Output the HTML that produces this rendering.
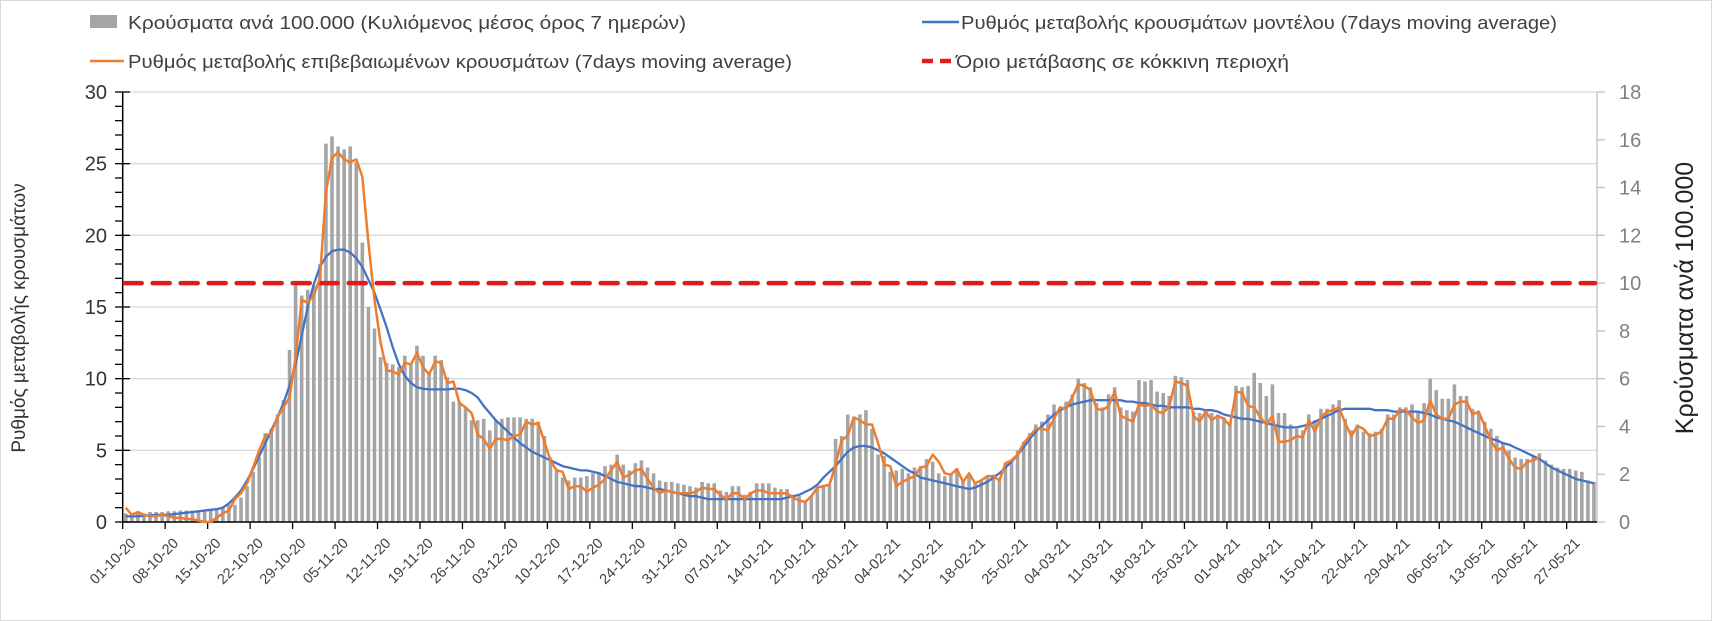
<!DOCTYPE html>
<html><head><meta charset="utf-8"><style>
html,body{margin:0;padding:0;background:#fff;}
svg{display:block;font-family:"Liberation Sans",sans-serif;}
</style></head><body>
<svg id="chart" width="1712" height="621" viewBox="0 0 1712 621" xmlns="http://www.w3.org/2000/svg">
<rect x="0.5" y="0.5" width="1711" height="620" fill="#fff" stroke="#d9d9d9"/>
<g id="grid"></g>
<g id="bars"></g>
<g id="axes"></g>
<g id="lines"></g>
<g>
  <rect x="90" y="15" width="27" height="13" fill="#a5a5a5"/>
  <text x="128" y="29" font-size="18" fill="#404040" textLength="558" lengthAdjust="spacingAndGlyphs">Κρούσματα ανά 100.000 (Κυλιόμενος μέσος όρος 7 ημερών)</text>
  <line x1="90" y1="61" x2="124" y2="61" stroke="#ed7d31" stroke-width="2.5"/>
  <text x="128" y="68" font-size="18" fill="#404040" textLength="664" lengthAdjust="spacingAndGlyphs">Ρυθμός μεταβολής επιβεβαιωμένων κρουσμάτων (7days moving average)</text>
  <line x1="922" y1="22" x2="959" y2="22" stroke="#4472c4" stroke-width="2.5"/>
  <text x="961" y="29" font-size="18" fill="#404040" textLength="596" lengthAdjust="spacingAndGlyphs">Ρυθμός μεταβολής κρουσμάτων μοντέλου (7days moving average)</text>
  <line x1="922" y1="61" x2="954" y2="61" stroke="#e01b1b" stroke-width="4.5" stroke-dasharray="11,7"/>
  <text x="956" y="68" font-size="18" fill="#404040" textLength="333" lengthAdjust="spacingAndGlyphs">Όριο μετάβασης σε κόκκινη περιοχή</text>
</g>
<text transform="translate(25,318) rotate(-90)" text-anchor="middle" font-size="19" fill="#333">Ρυθμός μεταβολής κρουσμάτων</text>
<text transform="translate(1693,298) rotate(-90)" text-anchor="middle" font-size="25" fill="#222">Κρούσματα ανά 100.000</text>
</svg>
<script>
const leftTicks = [0,5,10,15,20,25,30];
const rightTicks = [0,2,4,6,8,10,12,14,16,18];
const redLimit = 10;
const dateLabels = ["01-10-20","08-10-20","15-10-20","22-10-20","29-10-20","05-11-20","12-11-20","19-11-20","26-11-20","03-12-20","10-12-20","17-12-20","24-12-20","31-12-20","07-01-21","14-01-21","21-01-21","28-01-21","04-02-21","11-02-21","18-02-21","25-02-21","04-03-21","11-03-21","18-03-21","25-03-21","01-04-21","08-04-21","15-04-21","22-04-21","29-04-21","06-05-21","13-05-21","20-05-21","27-05-21"];
const casesPer100k = [.36,.36,.39,.36,.42,.42,.42,.45,.45,.48,
.48,.48,.48,.48,.48,.54,.6,.72,.72,1.02,
1.5,2.1,2.7,3.72,3.9,4.5,5.1,7.2,9.9,9.48,
9.72,9.9,10.8,15.84,16.14,15.72,15.6,15.72,15.06,11.7,
9.0,8.1,6.9,6.66,6.6,6.48,6.96,6.6,7.38,6.96,
6.3,6.96,6.78,6.06,5.04,5.04,4.8,4.26,4.26,4.32,
3.84,4.26,4.32,4.38,4.38,4.38,4.32,4.32,4.2,3.6,
2.7,2.22,1.86,1.74,1.86,1.86,1.92,2.04,2.1,2.34,
2.4,2.82,2.4,2.16,2.46,2.58,2.28,2.04,1.74,1.68,
1.68,1.62,1.56,1.5,1.44,1.68,1.62,1.62,1.32,1.26,
1.5,1.5,1.14,1.26,1.62,1.62,1.62,1.44,1.38,1.38,
1.14,1.08,.9,1.08,1.38,1.56,1.56,3.48,3.6,4.5,
4.38,4.5,4.68,3.9,2.82,2.76,2.1,2.16,2.22,2.04,
2.28,2.34,2.64,2.52,2.04,1.92,1.98,2.22,1.8,1.98,
1.68,1.74,1.92,1.98,1.8,2.46,2.58,3.0,3.36,3.72,
4.08,4.2,4.5,4.92,4.8,5.04,5.34,6.0,5.82,5.64,
4.98,4.8,5.34,5.64,4.8,4.68,4.62,5.94,5.88,5.94,
5.46,5.4,5.28,6.12,6.06,5.94,4.62,4.56,4.68,4.56,
4.5,4.38,4.2,5.7,5.64,5.7,6.24,5.82,5.28,5.76,
4.56,4.56,4.08,3.9,3.84,4.5,4.26,4.74,4.74,4.92,
5.1,4.32,3.84,4.08,3.78,3.72,3.78,3.9,4.5,4.5,
4.8,4.8,4.92,4.62,4.98,6.0,5.52,5.16,5.16,5.76,
5.28,5.28,4.74,4.56,4.2,3.9,3.6,3.3,3.0,2.7,
2.64,2.64,2.76,2.88,2.58,2.4,2.28,2.22,2.22,2.16,2.1,1.74,1.68];
const confirmedRate = [1.0,0.5,0.7,0.5,0.4,0.4,0.5,0.4,0.3,0.3,
0.2,0.2,0.1,0.0,0.0,0.3,0.6,0.8,1.6,2.0,
2.7,3.8,5.0,6.0,6.2,7.3,8.0,8.7,11.5,15.5,
15.3,15.8,17.0,23.0,25.4,25.8,25.3,25.1,25.3,24.1,
19.5,15.5,12.5,10.6,10.5,10.3,11.1,11.0,11.8,10.8,
10.3,11.2,11.1,9.7,9.8,8.3,8.0,7.6,6.1,5.8,
5.1,5.8,5.8,5.7,6.0,6.1,7.0,6.8,6.9,5.6,
4.3,3.6,3.5,2.3,2.5,2.5,2.1,2.4,2.6,3.0,
3.6,4.2,3.1,3.3,3.6,3.7,3.0,2.4,2.0,2.2,
2.1,2.0,2.0,2.0,2.1,2.4,2.3,2.3,1.9,1.6,
2.0,2.0,1.6,2.0,2.2,2.2,2.0,2.0,2.0,2.0,
1.7,1.5,1.4,1.8,2.4,2.5,2.6,4.0,5.7,6.0,
7.3,7.1,6.8,6.8,5.5,4.0,3.9,2.5,2.8,3.0,
3.2,3.8,3.9,4.7,4.2,3.4,3.3,3.7,2.8,3.4,
2.7,2.9,3.2,3.2,2.9,4.1,4.3,4.7,5.5,6.0,
6.5,6.5,6.4,7.2,8.0,7.9,8.7,9.6,9.5,9.2,
7.9,7.8,8.1,9.1,7.4,7.2,7.0,8.2,8.1,8.2,
7.7,7.6,8.1,9.8,9.7,9.5,7.4,7.0,7.7,7.1,
7.4,7.2,6.7,9.1,9.0,8.1,8.0,7.3,6.8,7.4,
5.6,5.6,5.7,6.0,5.9,7.1,6.3,7.3,7.7,7.8,
8.0,6.9,6.0,6.7,6.5,6.0,6.1,6.3,7.2,7.2,
7.8,7.8,7.3,6.9,7.1,8.5,7.5,7.2,7.2,8.2,
8.4,8.4,7.5,7.7,6.7,5.7,5.0,5.2,4.4,3.8,
3.7,4.2,4.3,4.5];
const modelRate = [0.4,0.4,0.4,0.45,0.45,0.5,0.5,0.5,0.55,0.6,
0.65,0.7,0.75,0.8,0.85,0.9,1.0,1.3,1.7,2.2,
2.9,3.7,4.6,5.5,6.4,7.3,8.3,9.5,11.0,13.0,
15.0,16.6,17.8,18.5,18.9,19.0,19.0,18.8,18.4,17.8,
16.9,16.0,14.8,13.6,12.2,11.0,10.2,9.7,9.4,9.3,
9.25,9.25,9.25,9.25,9.3,9.3,9.2,9.0,8.7,8.1,
7.6,7.1,6.7,6.3,5.9,5.5,5.2,4.9,4.7,4.5,
4.3,4.1,3.9,3.8,3.7,3.6,3.6,3.5,3.4,3.2,
3.0,2.8,2.7,2.6,2.5,2.5,2.4,2.3,2.3,2.2,
2.1,2.0,1.9,1.8,1.8,1.7,1.6,1.6,1.6,1.6,
1.6,1.6,1.6,1.6,1.6,1.6,1.6,1.6,1.6,1.7,
1.8,1.9,2.1,2.3,2.6,3.1,3.5,3.9,4.4,4.9,
5.2,5.3,5.3,5.2,5.0,4.8,4.5,4.2,3.9,3.6,
3.4,3.1,3.0,2.9,2.8,2.7,2.6,2.5,2.4,2.3,
2.4,2.6,2.8,3.1,3.4,3.8,4.2,4.7,5.2,5.8,
6.3,6.7,7.1,7.5,7.8,8.0,8.2,8.3,8.4,8.5,
8.5,8.5,8.5,8.5,8.5,8.4,8.4,8.3,8.3,8.2,
8.1,8.1,8.0,8.0,8.0,8.0,7.9,7.9,7.8,7.8,
7.7,7.5,7.4,7.3,7.2,7.2,7.1,7.0,6.9,6.8,
6.7,6.6,6.6,6.6,6.7,6.8,7.0,7.2,7.4,7.6,
7.8,7.9,7.9,7.9,7.9,7.9,7.8,7.8,7.8,7.7,
7.7,7.7,7.7,7.7,7.6,7.5,7.3,7.2,7.1,7.0,
6.8,6.6,6.4,6.2,6.0,5.8,5.7,5.5,5.4,5.2,
5.0,4.8,4.6,4.4,4.1,3.8,3.6,3.4,3.2,3.0,
2.9,2.8,2.7];

const NS = "http://www.w3.org/2000/svg";
const X0 = 122.7, X1 = 1597, Y0 = 522, Ytop = 92;
const nDays = casesPer100k.length;
const dayW = (X1 - X0) / nDays;
const leftMax = 30, rightMax = 18;
function xC(i){ return X0 + (i + 0.5) * dayW; }
function xT(i){ return X0 + i * dayW; }
function yL(v){ return Y0 - v / leftMax * (Y0 - Ytop); }
function yR(v){ return Y0 - v / rightMax * (Y0 - Ytop); }
function mk(tag, attrs, parent){
  const e = document.createElementNS(NS, tag);
  for (const k in attrs) e.setAttribute(k, attrs[k]);
  parent.appendChild(e);
  return e;
}
const grid = document.getElementById('grid');
const axes = document.getElementById('axes');
const barsG = document.getElementById('bars');
const linesG = document.getElementById('lines');

leftTicks.forEach(v => {
  if (v > 0) {
    const g = mk('line', {x1:X0, x2:X1, y1:yL(v), y2:yL(v), stroke:'#d9d9d9', 'stroke-width':1.3}, grid);
    
    
  }
  const t = mk('text', {x:107, y:yL(v)+7, 'text-anchor':'end', 'font-size':20, fill:'#333'}, axes);
  t.textContent = v;
  
  
  mk('line', {x1:115, x2:130, y1:yL(v), y2:yL(v), stroke:'#000', 'stroke-width':1.3}, axes);
});
for (let v = 1; v < leftMax; v++) {
  if (v % 5) mk('line', {x1:115, x2:X0, y1:yL(v), y2:yL(v), stroke:'#000', 'stroke-width':1.3}, axes);
}
rightTicks.forEach(v => {
  mk('line', {x1:X1, x2:X1+8, y1:yR(v), y2:yR(v), stroke:'#bfbfbf', 'stroke-width':1.3}, axes);
  const t = mk('text', {x:1619, y:yR(v)+7, 'font-size':20, fill:'#808080'}, axes);
  t.textContent = v;
  
  
});
mk('line', {x1:X1, x2:X1, y1:Ytop, y2:Y0, stroke:'#bfbfbf', 'stroke-width':1.3}, axes);

casesPer100k.forEach((v, i) => {
  const b = mk('rect', {x:xC(i)-1.8, y:yR(v), width:3.6, height:Y0 - yR(v), fill:'#a5a5a5'}, barsG);
  
  
});

mk('line', {x1:X0, x2:X0, y1:Ytop, y2:Y0, stroke:'#000', 'stroke-width':1.5}, axes);
mk('line', {x1:X0, x2:X1, y1:Y0, y2:Y0, stroke:'#000', 'stroke-width':1.5}, axes);
dateLabels.forEach((lab, k) => {
  const x = xT(k * 7);
  mk('line', {x1:x, x2:x, y1:Y0, y2:Y0+7, stroke:'#000', 'stroke-width':1.3}, axes);
  const t = mk('text', {x:x+14, y:Y0+22, 'text-anchor':'end', 'font-size':14.5, fill:'#404040', transform:'rotate(-45 '+(x+14)+' '+(Y0+22)+')'}, axes);
  t.textContent = lab;
  
  
});

const red = mk('line', {x1:X0+2, x2:X1-2, y1:yR(redLimit), y2:yR(redLimit), stroke:'#e01b1b', 'stroke-width':4.5, 'stroke-dasharray':'17,11', 'stroke-linecap':'round'}, linesG);



const bp = mk('path', {d: modelRate.map((v,i)=>(i?'L':'M')+xC(i).toFixed(1)+','+yL(v).toFixed(1)).join(''), fill:'none', stroke:'#4472c4', 'stroke-width':2.3, 'stroke-linejoin':'round'}, linesG);


const op = mk('path', {d: confirmedRate.map((v,i)=>(i?'L':'M')+xC(i).toFixed(1)+','+yL(v).toFixed(1)).join(''), fill:'none', stroke:'#ed7d31', 'stroke-width':2.5, 'stroke-linejoin':'round'}, linesG);


</script>
</body></html>
